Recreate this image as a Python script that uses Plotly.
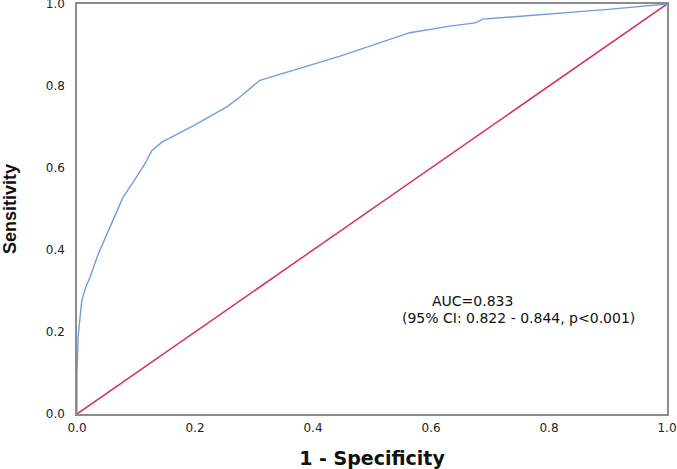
import plotly.graph_objects as go

fpr = [0.0, 0.0, 0.002, 0.004, 0.008, 0.015, 0.022, 0.036, 0.056, 0.078, 0.095,
       0.107, 0.115, 0.127, 0.135, 0.144, 0.2, 0.254, 0.276, 0.31, 0.446, 0.564,
       0.632, 0.675, 0.688, 0.8, 0.9, 1.0]
tpr = [0.0, 0.10, 0.19, 0.22, 0.276, 0.31, 0.333, 0.39, 0.455, 0.529, 0.565,
       0.594, 0.61, 0.643, 0.652, 0.663, 0.705, 0.749, 0.773, 0.814, 0.873, 0.93,
       0.946, 0.954, 0.963, 0.975, 0.987, 1.0]
ref_x = [0.0, 1.0]
ref_y = [0.0, 1.0]
ticks = [0.0, 0.2, 0.4, 0.6, 0.8, 1.0]
tick_text = ["0.0", "0.2", "0.4", "0.6", "0.8", "1.0"]

fig = go.Figure()
fig.add_trace(go.Scatter(x=ref_x, y=ref_y, mode="lines",
                         line=dict(color="#D6305A", width=1.5), showlegend=False))
fig.add_trace(go.Scatter(x=fpr, y=tpr, mode="lines",
                         line=dict(color="#6F9FDB", width=1.4), showlegend=False))

ann_font = dict(family="DejaVu Sans", size=14, color="#111")
fig.add_annotation(x=0.670, y=0.276, xref="x", yref="y",
                   text="AUC=0.833", showarrow=False, font=ann_font)
fig.add_annotation(x=0.748, y=0.234, xref="x", yref="y",
                   text="(95% CI: 0.822 - 0.844, p<0.001)", showarrow=False,
                   font=ann_font)

axis_common = dict(range=[0, 1], tickvals=ticks, ticktext=tick_text,
                   showgrid=False, zeroline=False, showline=True, mirror=True,
                   linecolor="#8c8c8c", linewidth=1.5, ticks="", automargin=False,
                   ticklabeloverflow="allow",
                   tickfont=dict(family="DejaVu Sans", size=12, color="#222"))

fig.update_xaxes(**axis_common, ticklabelstandoff=2,
                 title=dict(text="<b>1 - Specificity</b>", standoff=20,
                            font=dict(family="DejaVu Sans", size=19, color="#111")))
fig.update_yaxes(**axis_common, ticklabelstandoff=8,
                 title=dict(text="<b>Sensitivity</b>", standoff=32,
                            font=dict(family="Liberation Sans", size=18, color="#111")))

fig.update_layout(width=677, height=469,
                  margin=dict(l=77, r=10, t=4, b=55),
                  plot_bgcolor="white", paper_bgcolor="white")

fig.write_html("out.html", config={"displayModeBar": False},
               post_script="document.body.style.margin='0';document.body.style.overflow='hidden';")
